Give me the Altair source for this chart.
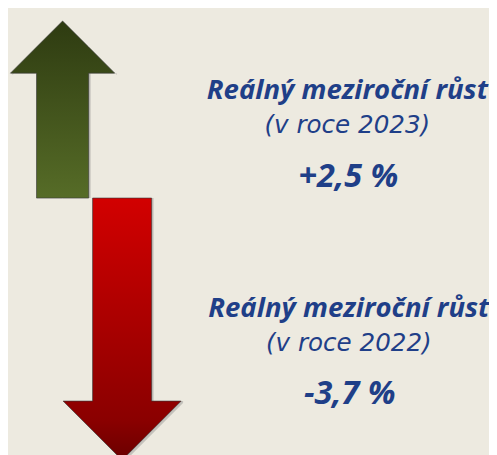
import altair as alt
import pandas as pd

# ---- data ----
years = ["2023", "2022"]
values = [2.5, -3.7]
title_text = ["Reálný meziroční růst", "Reálný meziroční růst"]

# ---- layout / style ----
W, H = 489, 447
PX_PER_UNIT = 72.0
BASE_PX = 189.5
Y_MAX = BASE_PX / PX_PER_UNIT
Y_MIN = Y_MAX - H / PX_PER_UNIT
arrow_cx = [55.5, 116.0]        # arrow centre (x scale units = px)
arrow_half_shaft = [26.5, 30.0]
BG = "#EDEAE0"
TEXT_COL = "#1F3F88"
FONT = "Open Sans"
FONT2 = "DejaVu Sans"
EPS = 0.01


def arrow_rows(value, cx, hs):
    hh = 2 * hs
    s = 1 if value > 0 else -1
    tip = value
    head_base = value - s * hh / PX_PER_UNIT
    ys = tip - s * hs / PX_PER_UNIT
    pts = [
        (cx - hh, head_base, head_base),
        (cx - hs - EPS, ys, head_base),
        (cx - hs, ys, 0.0),
        (cx, tip, 0.0),
        (cx + hs, ys, 0.0),
        (cx + hs + EPS, ys, head_base),
        (cx + hh, head_base, head_base),
    ]
    return pd.DataFrame([{"x": p[0], "y": p[1], "y2": p[2]} for p in pts])


xs = alt.Scale(domain=[0, W], nice=False, zero=False)
ysc = alt.Scale(domain=[Y_MIN, Y_MAX], nice=False, zero=False)

grad_up = alt.Gradient(
    gradient="linear",
    stops=[alt.GradientStop(color="#2E3B11", offset=0),
           alt.GradientStop(color="#566C27", offset=1)],
    x1=0, x2=0, y1=0, y2=1,
)
grad_down = alt.Gradient(
    gradient="linear",
    stops=[alt.GradientStop(color="#D20000", offset=0),
           alt.GradientStop(color="#8A0000", offset=0.85),
           alt.GradientStop(color="#6A0000", offset=1)],
    x1=0, x2=0, y1=0, y2=1,
)

layers = []
for v, cx, hs, g in zip(values, arrow_cx, arrow_half_shaft, [grad_up, grad_down]):
    df = arrow_rows(v, cx, hs)
    enc = dict(
        x=alt.X("x:Q", scale=xs, axis=None),
        y=alt.Y("y:Q", scale=ysc, axis=None),
        y2="y2:Q",
    )
    shadow = alt.Chart(df).mark_area(
        color="#777777", opacity=0.35, xOffset=2, yOffset=2
    ).encode(**enc)
    body = alt.Chart(df).mark_area(
        fill=g, stroke="#3A3A3A", strokeWidth=0.8, strokeOpacity=0.8
    ).encode(**enc)
    layers += [shadow, body]

value_labels = [
    ("+" if v > 0 else "-") + f"{abs(v):.1f}".replace(".", ",") + " %" for v in values
]
block_base = [89, 310]
block_x = [345, 346.5]
text_df = pd.DataFrame({
    "title": title_text,
    "year": [f"(v roce {y})" for y in years],
    "val": value_labels,
    "xt": block_x,
    "xv": [x + 1 for x in block_x],
    "yt": [b for b in block_base],
    "yy": [b + 34.5 for b in block_base],
    "yv": [b + 89 for b in block_base],
})

t1 = alt.Chart(text_df).mark_text(
    font=FONT, fontSize=28, fontStyle="italic", fontWeight="bold",
    color=TEXT_COL, align="center", baseline="alphabetic"
).encode(x=alt.X("xt:Q", scale=None), y=alt.Y("yt:Q", scale=None), text="title:N")
t2 = alt.Chart(text_df).mark_text(
    font=FONT2, fontSize=25, fontStyle="italic", fontWeight="normal",
    color=TEXT_COL, align="center", baseline="alphabetic"
).encode(x=alt.X("xt:Q", scale=None), y=alt.Y("yy:Q", scale=None), text="year:N")
t3 = alt.Chart(text_df).mark_text(
    font=FONT, fontSize=33, fontStyle="italic", fontWeight="bold",
    color=TEXT_COL, align="center", baseline="alphabetic"
).encode(x=alt.X("xv:Q", scale=None), y=alt.Y("yv:Q", scale=None), text="val:N")

chart = alt.layer(*layers, t1, t2, t3).properties(
    width=W, height=H, background=BG, padding=0,
    autosize=alt.AutoSizeParams(type="none"),
).configure_view(stroke=None)

chart.save("out.html", embed_options={"renderer": "svg", "actions": False})
